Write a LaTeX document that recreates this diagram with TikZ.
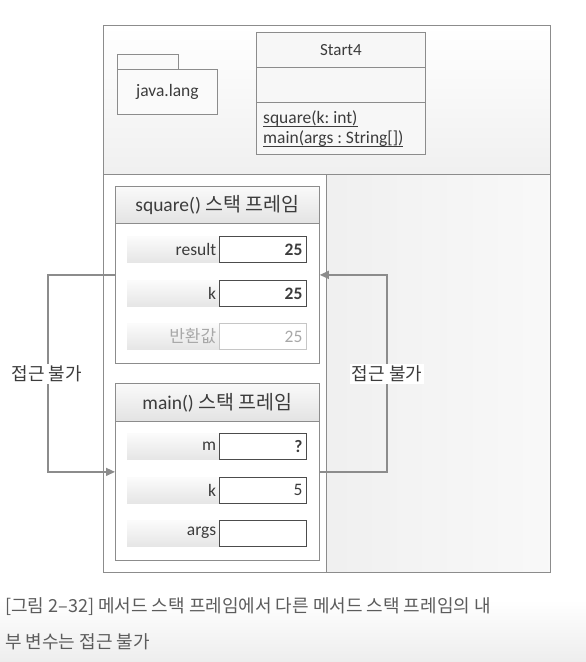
\documentclass[tikz,border=0pt]{standalone}
\usepackage{fontspec}
\setmainfont{Carlito}
\newfontfamily\kr{Noto Sans CJK KR}
\usetikzlibrary{arrows.meta,shadows}
\definecolor{ln}{HTML}{8C8C8C}
\definecolor{tx}{HTML}{3C3C3C}
\definecolor{lt}{HTML}{A8A8A8}
\frenchspacing
\newcommand\ulx[1]{\setbox0\hbox{#1}\rlap{\raisebox{-2.5pt}{\rule{\wd0}{0.7pt}}}\box0}
\begin{document}
\begin{tikzpicture}[x=1pt,y=-1pt,
  box/.style={draw=ln, line width=0.8pt, rectangle, inner sep=0pt, anchor=north west, text=tx},
  hdr/.style={box, top color=gray!4, bottom color=gray!22},
  lbl/.style={rectangle, inner sep=0pt, anchor=north west, minimum width=92, minimum height=26,
     top color=gray!3, bottom color=gray!20, text width=86, align=right, text=tx,
     font=\fontsize{17.5}{19}\selectfont},
  val/.style={box, draw=gray!60!black, minimum width=87, minimum height=26, fill=white,
     drop shadow={shadow xshift=1pt, shadow yshift=-1pt, opacity=0.25},
     text width=79, align=right, font=\fontsize{17.5}{19}\selectfont},
  conn/.style={draw=ln, line width=1.3pt},
  tip/.style={-{Triangle[length=9pt,width=8pt]}},
  cl/.style={fill=white, inner sep=2pt, text=tx, font=\kr\fontsize{18}{20}\selectfont}]
\useasboundingbox (0,0) rectangle (586,662);
\shade[top color=white, bottom color=gray!14] (0,600) rectangle (586,662);
% outer frame
\node[box, minimum width=447, minimum height=149, top color=white, bottom color=gray!12] (toppane) at (103,25) {};
\node[box, minimum width=223, minimum height=398, fill=white] (leftpane) at (103,174) {};
\node[box, minimum width=224, minimum height=398, left color=gray!12, right color=gray!5] (rightpane) at (326,174) {};
% package
\node[box, minimum width=61, minimum height=15, fill=gray!4] (pkgtab) at (117,54) {};
\node[box, minimum width=100, minimum height=45, fill=gray!4, font=\fontsize{17.5}{19}\selectfont] (pkg) at (117,69) {java.lang};
% class
\node[box, minimum width=169, minimum height=35, fill=gray!6, font=\fontsize{17}{19}\selectfont] (cname) at (256,32) {Start4};
\node[box, minimum width=169, minimum height=35, fill=gray!6] (cattr) at (256,67) {};
\node[box, minimum width=169, minimum height=52, fill=gray!6] (cmeth) at (256,102) {};
\node[anchor=west, inner sep=0pt, text=tx, align=left, font=\fontsize{17.5}{20}\selectfont]
  (cmtext) at (263,129) {\ulx{square(k: int)}\\\ulx{main(args : String[])}};
% square frame
\node[box, minimum width=204, minimum height=177, fill=white,
  drop shadow={shadow xshift=1pt, shadow yshift=-1pt, opacity=0.2}] (sq) at (115,186) {};
\node[hdr, minimum width=204, minimum height=37, font=\fontsize{19.5}{21}\selectfont] (sqh) at (115,186) {square() {\kr 스택 프레임}};
\node[lbl] (sq1l) at (127,236) {result};
\node[val, font=\bfseries\fontsize{17.5}{19}\selectfont] (sq1v) at (219,236) {25};
\node[lbl] (sq2l) at (127,280) {k};
\node[val, font=\bfseries\fontsize{17.5}{19}\selectfont] (sq2v) at (219,280) {25};
\node[lbl, text=lt, font=\kr\fontsize{17}{19}\selectfont] (sq3l) at (127,323) {반환값};
\node[val, text=lt, draw=gray!45] (sq3v) at (219,323) {25};
% main frame
\node[box, minimum width=204, minimum height=177, fill=white,
  drop shadow={shadow xshift=1pt, shadow yshift=-1pt, opacity=0.2}] (mf) at (115,383) {};
\node[hdr, minimum width=204, minimum height=38, font=\fontsize{19.5}{21}\selectfont] (mfh) at (115,383) {main() {\kr 스택 프레임}};
\node[lbl] (mf1l) at (127,433) {m};
\node[val, font=\bfseries\fontsize{17.5}{19}\selectfont] (mf1v) at (219,433) {?};
\node[lbl] (mf2l) at (127,477) {k};
\node[val] (mf2v) at (219,477) {5};
\node[lbl] (mf3l) at (127,520) {args};
\node[val] (mf3v) at (219,520) {};
% connectors
\coordinate (lc) at (48,0);
\coordinate (rc) at (387,0);
\draw[conn, tip] (sq.west) -- (sq.west -| lc) -- (mf.west -| lc) -- (mf.west);
\draw[conn, tip] (mf.east) -- (mf.east -| rc) -- (sq.east -| rc) -- (sq.east);
\node[cl] (lab1) at (47,374) {접근 불가};
\node[cl] (lab2) at (387,374) {접근 불가};
% caption
\node[anchor=west, inner sep=0pt, text=gray!72!black, font=\kr\fontsize{18}{20}\selectfont] (cap1) at (5,607) {[그림 2–32] 메서드 스택 프레임에서 다른 메서드 스택 프레임의 내};
\node[anchor=west, inner sep=0pt, text=gray!72!black, font=\kr\fontsize{18}{20}\selectfont] (cap2) at (5,642) {부 변수는 접근 불가};
\end{tikzpicture}
\end{document}
